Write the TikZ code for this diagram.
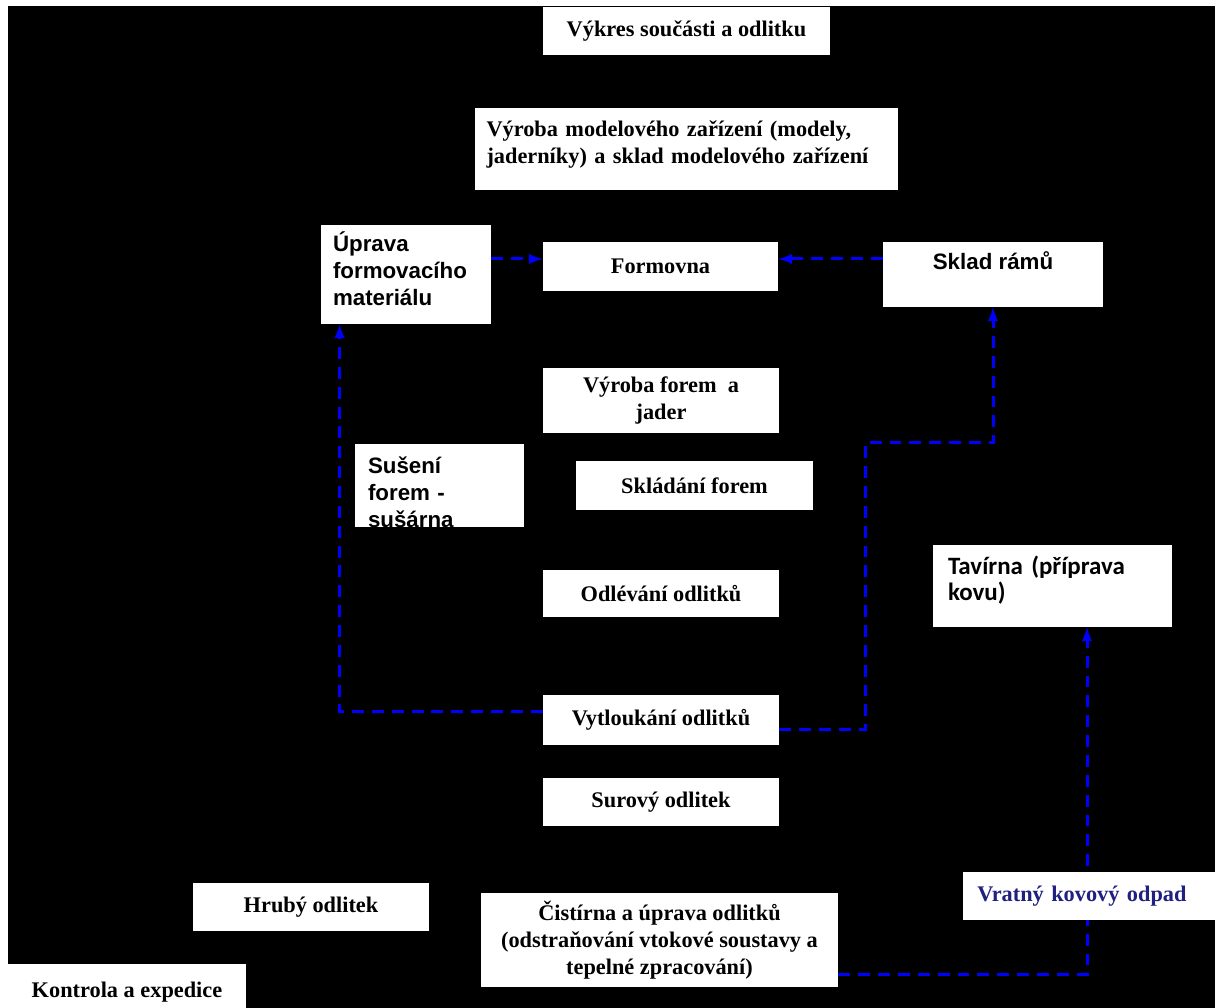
\documentclass[tikz,border=0pt]{standalone}
\usepackage{fontspec}
\setmainfont{Liberation Serif}
\newfontfamily\arialfont{Liberation Sans}
\newfontfamily\carlitofont{Carlito}
\definecolor{odpadblue}{RGB}{32,32,128}
\newcommand{\serifbox}{\fontsize{12.7}{15.3}\selectfont\bfseries}
\newcommand{\sansbox}{\arialfont\fontsize{12.7}{15.3}\selectfont\bfseries}
\newcommand{\calbox}{\carlitofont\fontsize{14.2}{14.8}\selectfont\bfseries}

\begin{document}
\begin{tikzpicture}[
  box/.style={fill=white,inner sep=0pt,font=\serifbox,align=center},
  leftbox/.style={fill=white,inner ysep=0pt,align=left},
  flow/.style={blue,line width=1.7pt,dash pattern=on 6.8pt off 4.5pt,-latex}
]
  \useasboundingbox (0,0) rectangle (24.3,20.16);
  \fill[white] (0,0) rectangle (24.3,20.16);
  \fill[black] (0.16,0) rectangle (24.3,20.04);

  \node[box,minimum width=5.74cm,minimum height=0.96cm] (vykres) at (13.73,19.54) {Výkres součásti a odlitku};
  \node[leftbox,font=\serifbox,inner xsep=0.23cm,text width=8cm,text height=0.58cm,text depth=1.06cm] (model) at (13.73,17.18) {Výroba modelového zařízení (modely,\\jaderníky) a sklad modelového zařízení};
  \node[leftbox,font=\sansbox,inner xsep=0.24cm,text width=2.92cm,text height=0.54cm,text depth=1.44cm] (uprava) at (8.12,14.67) {Úprava\\formovacího\\materiálu};
  \node[box,minimum width=4.7cm,minimum height=0.98cm] (formovna) at (13.21,14.83) {Formovna};
  \node[box,font=\sansbox,minimum width=4.4cm,text height=0.56cm,text depth=0.74cm] (sklad) at (19.86,14.67) {Sklad rámů};
  \node[box,minimum width=4.72cm,minimum height=1.3cm] (forem) at (13.22,12.15) {Výroba forem~ a\\jader};
  \node[leftbox,font=\sansbox,inner xsep=0.26cm,text width=2.86cm,text height=0.6cm,text depth=1.06cm] (suseni) at (8.79,10.45) {Sušení\\forem -\\sušárna};
  \node[box,minimum width=4.74cm,minimum height=0.98cm] (skladani) at (13.89,10.45) {Skládání forem};
  \node[box,minimum width=4.72cm,minimum height=0.94cm] (odlevani) at (13.22,8.29) {Odlévání odlitků};
  \node[leftbox,font=\calbox,inner xsep=0.3cm,text width=4.18cm,text height=0.6cm,text depth=1.04cm] (tavirna) at (21.05,8.44) {Tavírna (příprava\\kovu)};
  \node[box,minimum width=4.72cm,minimum height=1cm] (vytloukani) at (13.22,5.76) {Vytloukání odlitků};
  \node[box,minimum width=4.72cm,minimum height=0.96cm] (surovy) at (13.22,4.12) {Surový odlitek};
  \node[box,minimum width=7.14cm,minimum height=1.88cm] (cistirna) at (13.19,1.36) {Čistírna a úprava odlitků\\(odstraňování vtokové soustavy a\\tepelné zpracování)};
  \node[box,minimum width=4.72cm,minimum height=0.96cm] (hruby) at (6.22,2.02) {Hrubý odlitek};
  \node[box,minimum width=4.76cm,minimum height=1.12cm] (kontrola) at (2.54,0.32) {Kontrola a expedice};

  \coordinate (ohyb) at (17.3,11.3);
  \draw[flow] ([yshift=0.15cm]formovna.west -| uprava.east) -- ([yshift=0.15cm]formovna.west);
  \draw[flow] ([yshift=0.15cm]formovna.east -| sklad.west) -- ([yshift=0.15cm]formovna.east);
  \draw[flow] ([yshift=0.16cm]vytloukani.west) -| ([xshift=0.38cm]uprava.south west);
  \draw[flow] ([yshift=-0.2cm]vytloukani.east) -| (ohyb) -| (sklad.south);
  \draw[flow] ([yshift=-0.7cm]cistirna.east) -| ([xshift=0.69cm]tavirna.south);

  \node[leftbox,font=\serifbox,text=odpadblue,anchor=west,inner xsep=0.28cm,text width=5cm,minimum height=0.96cm] (vratny) at (19.26,2.24) {Vratný kovový odpad};
\end{tikzpicture}
\end{document}
